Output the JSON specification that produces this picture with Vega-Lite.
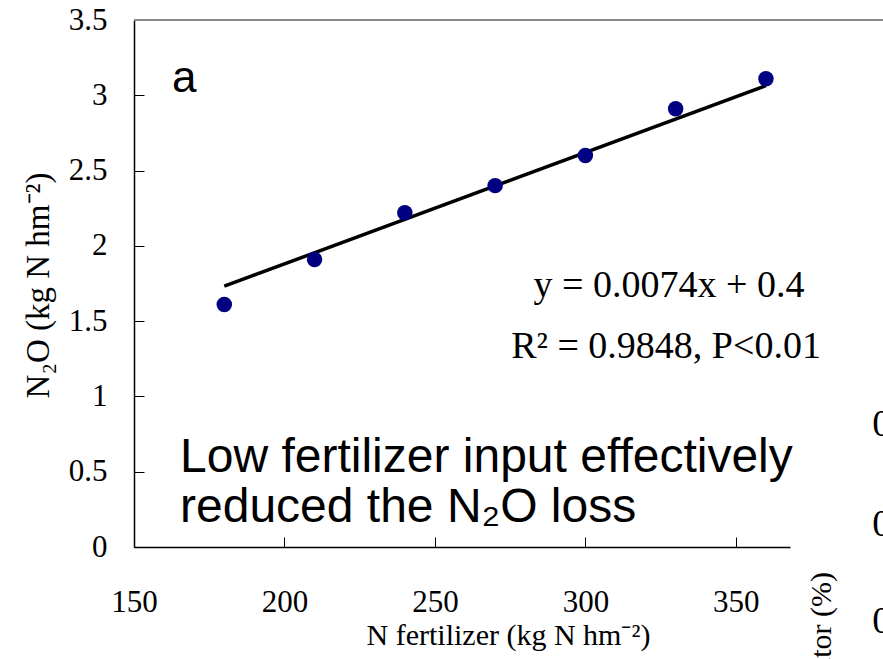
{
  "$schema": "https://vega.github.io/schema/vega-lite/v6.json",
  "autosize": {"type": "none"},
  "padding": {"left": 134, "top": 20, "right": 93, "bottom": 112},
  "width": 656,
  "height": 527,
  "background": "white",
  "config": {"view": {"stroke": null}},
  "datasets": {
    "points": [
      {"n": 180, "n2o": 1.61},
      {"n": 210, "n2o": 1.91},
      {"n": 240, "n2o": 2.22},
      {"n": 270, "n2o": 2.40},
      {"n": 300, "n2o": 2.60},
      {"n": 330, "n2o": 2.91},
      {"n": 360, "n2o": 3.11}
    ],
    "fit": [
      {"n": 180, "n2o": 1.732},
      {"n": 360, "n2o": 3.064}
    ],
    "border": [{"n": 150, "n2": 400, "n2o": 3.5}],
    "panel": [{"n": 162.6, "n2o": 3.02, "label": "a"}],
    "note": [{"n": 165.3, "n2o": 0.5, "label": ["Low fertilizer input effectively", "reduced the N₂O loss"]}],
    "eq": [
      {"n": 327.8, "n2o": 1.66, "label": "y = 0.0074x + 0.4"},
      {"n": 326.8, "n2o": 1.255, "label": "R² = 0.9848, P<0.01"}
    ],
    "side": [
      {"n": 395.3, "n2o": 0.81, "label": "0"},
      {"n": 395.3, "n2o": 0.146, "label": "0"},
      {"n": 395.3, "n2o": -0.5, "label": "0"}
    ],
    "sidetitle": [{"n": 381.6, "n2o": -0.166, "label": "factor (%)"}]
  },
  "layer": [
    {
      "data": {"name": "border"},
      "mark": {"type": "rule", "color": "#888888", "strokeWidth": 2, "clip": false},
      "encoding": {
        "x": {"field": "n", "type": "quantitative"},
        "x2": {"field": "n2"},
        "y": {"field": "n2o", "type": "quantitative"}
      }
    },
    {
      "data": {"name": "fit"},
      "mark": {"type": "line", "color": "black", "strokeWidth": 3.5},
      "encoding": {
        "x": {
          "field": "n", "type": "quantitative",
          "scale": {"domain": [150, 368], "nice": false, "zero": false},
          "axis": {
            "values": [150, 200, 250, 300, 350],
            "format": "d",
            "grid": false,
            "domainColor": "black", "domainWidth": 1.5,
            "tickColor": "black", "tickWidth": 1, "tickSize": -10,
            "labelFont": "Liberation Serif", "labelFontSize": 31, "labelColor": "black",
            "labelBaseline": "alphabetic", "labelPadding": 74,
            "labelFlush": false, "labelOverlap": false,
            "title": "N fertilizer (kg N hm⁻²)",
            "titleFont": "Liberation Serif", "titleFontSize": 30, "titleFontWeight": "normal", "titleColor": "black",
            "titleX": 374, "titleY": 97, "titleBaseline": "alphabetic", "titleAlign": "center"
          }
        },
        "y": {
          "field": "n2o", "type": "quantitative",
          "scale": {"domain": [0, 3.5], "nice": false},
          "axis": {
            "values": [0, 0.5, 1, 1.5, 2, 2.5, 3, 3.5],
            "format": "~g",
            "grid": false,
            "domainColor": "black", "domainWidth": 1.5,
            "tickColor": "black", "tickWidth": 1, "tickSize": -10,
            "labelFont": "Liberation Serif", "labelFontSize": 31, "labelColor": "black",
            "labelPadding": 37, "labelFlush": false, "labelOverlap": false,
            "title": "N₂O (kg N hm⁻²)",
            "titleFont": "Liberation Serif", "titleFontSize": 33, "titleFontWeight": "normal", "titleColor": "black",
            "titleX": -86, "titleY": 265, "titleAngle": -90, "titleBaseline": "alphabetic", "titleAlign": "center"
          }
        }
      }
    },
    {
      "data": {"name": "points"},
      "mark": {"type": "circle", "color": "#000080", "opacity": 1, "size": 240},
      "encoding": {
        "x": {"field": "n", "type": "quantitative"},
        "y": {"field": "n2o", "type": "quantitative"}
      }
    },
    {
      "data": {"name": "panel"},
      "mark": {"type": "text", "font": "Liberation Sans", "fontSize": 44, "color": "black", "align": "left", "baseline": "alphabetic"},
      "encoding": {
        "x": {"field": "n", "type": "quantitative"},
        "y": {"field": "n2o", "type": "quantitative"},
        "text": {"field": "label"}
      }
    },
    {
      "data": {"name": "note"},
      "mark": {"type": "text", "font": "Liberation Sans", "fontSize": 48, "lineHeight": 50, "color": "black", "align": "left", "baseline": "alphabetic"},
      "encoding": {
        "x": {"field": "n", "type": "quantitative"},
        "y": {"field": "n2o", "type": "quantitative"},
        "text": {"field": "label"}
      }
    },
    {
      "data": {"name": "eq"},
      "mark": {"type": "text", "font": "Liberation Serif", "fontSize": 38, "color": "black", "align": "center", "baseline": "alphabetic"},
      "encoding": {
        "x": {"field": "n", "type": "quantitative"},
        "y": {"field": "n2o", "type": "quantitative"},
        "text": {"field": "label"}
      }
    },
    {
      "data": {"name": "side"},
      "mark": {"type": "text", "font": "Liberation Serif", "fontSize": 38, "color": "black", "align": "left", "baseline": "middle", "clip": false},
      "encoding": {
        "x": {"field": "n", "type": "quantitative"},
        "y": {"field": "n2o", "type": "quantitative"},
        "text": {"field": "label"}
      }
    },
    {
      "data": {"name": "sidetitle"},
      "mark": {"type": "text", "font": "Liberation Serif", "fontSize": 30, "color": "black", "align": "right", "baseline": "alphabetic", "angle": 270, "clip": false},
      "encoding": {
        "x": {"field": "n", "type": "quantitative"},
        "y": {"field": "n2o", "type": "quantitative"},
        "text": {"field": "label"}
      }
    }
  ]
}
